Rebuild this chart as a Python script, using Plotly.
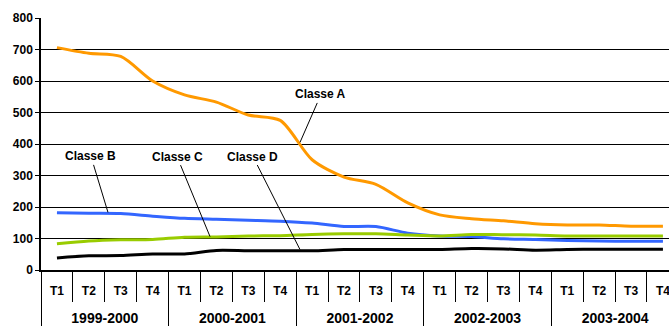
import plotly.graph_objects as go

years = ["1999-2000", "2000-2001", "2001-2002", "2002-2003", "2003-2004"]
quarters = ["T1", "T2", "T3", "T4"]

classe_a = [706, 688, 678, 600, 556, 533, 492, 475, 350, 295, 272, 213, 175, 163, 156, 147, 143, 143, 139, 139]
classe_b = [182, 180, 179, 171, 164, 161, 158, 155, 149, 138, 138, 117, 108, 106, 99, 97, 94, 92, 91, 91]
classe_c = [83, 92, 96, 97, 104, 105, 108, 109, 113, 115, 115, 111, 108, 113, 112, 111, 108, 108, 108, 108]
classe_d = [38, 45, 46, 51, 51, 62, 61, 61, 61, 65, 65, 65, 65, 68, 67, 63, 65, 66, 66, 66]

series_names = ["Classe A", "Classe B", "Classe C", "Classe D"]
colors = ["#FF9900", "#3366FF", "#99CC00", "#000000"]

nq = len(quarters)
x_quarters = [q for _ in years for q in quarters]
x_idx = list(range(len(x_quarters)))
year_centers = [i * nq + (nq - 1) / 2 for i in range(len(years))]

FONT = "Liberation Sans, Arial, sans-serif"

fig = go.Figure()
for name, vals, col in zip(series_names, [classe_a, classe_b, classe_c, classe_d], colors):
    fig.add_trace(go.Scatter(
        x=x_idx, y=vals, mode="lines", name=name,
        line=dict(color=col, width=3, shape="spline", smoothing=0.8),
        showlegend=False,
    ))
# empty helper trace so the year-level axis is drawn
fig.add_trace(go.Scatter(
    x=year_centers, y=[None] * len(years), xaxis="x2", yaxis="y",
    mode="lines", showlegend=False, hoverinfo="skip",
))

# annotations: (label, x index, y value, ax, ay)
ann = [
    ("Classe A", 7.62, 405, 21, -48),
    ("Classe B", 1.6, 183, -17, -56),
    ("Classe C", 4.8, 106, -33, -80),
    ("Classe D", 7.62, 65, -47, -93),
]
for text, xi, yv, axo, ayo in ann:
    fig.add_annotation(
        x=xi, y=yv, xref="x", yref="y", text=text, showarrow=True,
        arrowhead=0, arrowwidth=1, arrowcolor="black", ax=axo, ay=ayo,
        font=dict(family=FONT, size=12, color="black", weight="bold"),
    )

xr = [-0.5, 19.19]
fig.update_layout(
    width=669, height=326,
    margin=dict(l=41, r=0, t=18, b=56),
    paper_bgcolor="white", plot_bgcolor="white",
    font=dict(family=FONT, color="black"),
    yaxis=dict(
        range=[0, 800], dtick=100, showgrid=True, gridcolor="black", gridwidth=1,
        zeroline=False, showline=True, linecolor="black", linewidth=1.5,
        ticks="outside", ticklen=4, tickcolor="black",
        tickfont=dict(family=FONT, size=12, color="black", weight="bold"),
    ),
    xaxis=dict(
        range=xr, tickmode="array", tickvals=x_idx, ticktext=x_quarters,
        ticks="", showline=True, linecolor="black", linewidth=1.5,
        showgrid=False, zeroline=False, ticklabelstandoff=9,
        ticklabeloverflow="allow",
        tickfont=dict(family=FONT, size=12, color="black", weight="bold"),
        minor=dict(tick0=-0.5, dtick=1, ticks="outside", ticklen=30,
                   tickcolor="black", tickwidth=1, showgrid=False),
    ),
    xaxis2=dict(
        range=xr, overlaying="x", anchor="y", side="bottom",
        tickmode="array", tickvals=year_centers, ticktext=years,
        ticks="", showline=False, showgrid=False, zeroline=False,
        ticklabelstandoff=38, ticklabeloverflow="allow",
        tickfont=dict(family=FONT, size=14, color="black", weight="bold"),
        minor=dict(tick0=-0.5, dtick=nq, ticks="outside", ticklen=56,
                   tickcolor="black", tickwidth=1, showgrid=False),
    ),
)

fig.write_html("out.html")
